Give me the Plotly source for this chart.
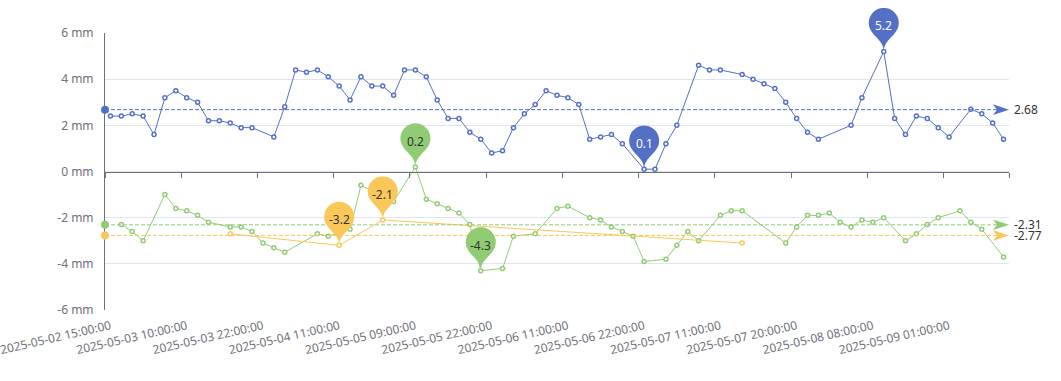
import math
import plotly.graph_objects as go

# ---------------- data ----------------
times = [
    "2025-05-02 15:00:00", "2025-05-02 16:00:00", "2025-05-02 18:00:00", "2025-05-02 19:00:00",
    "2025-05-02 21:00:00", "2025-05-02 23:00:00", "2025-05-03 06:00:00", "2025-05-03 10:00:00",
    "2025-05-03 11:00:00", "2025-05-03 13:00:00", "2025-05-03 15:00:00", "2025-05-03 17:00:00",
    "2025-05-03 19:00:00", "2025-05-03 20:00:00", "2025-05-03 22:00:00", "2025-05-03 23:00:00",
    "2025-05-04 01:00:00", "2025-05-04 03:00:00", "2025-05-04 05:00:00", "2025-05-04 07:00:00",
    "2025-05-04 09:00:00", "2025-05-04 11:00:00", "2025-05-04 13:00:00", "2025-05-04 16:00:00",
    "2025-05-04 19:00:00", "2025-05-04 22:00:00", "2025-05-05 02:00:00", "2025-05-05 06:00:00",
    "2025-05-05 09:00:00", "2025-05-05 10:00:00", "2025-05-05 12:00:00", "2025-05-05 14:00:00",
    "2025-05-05 16:00:00", "2025-05-05 18:00:00", "2025-05-05 20:00:00", "2025-05-05 22:00:00",
    "2025-05-05 23:00:00", "2025-05-06 01:00:00", "2025-05-06 03:00:00", "2025-05-06 05:00:00",
    "2025-05-06 07:00:00", "2025-05-06 09:00:00", "2025-05-06 11:00:00", "2025-05-06 12:00:00",
    "2025-05-06 14:00:00", "2025-05-06 15:00:00", "2025-05-06 17:00:00", "2025-05-06 19:00:00",
    "2025-05-06 20:00:00", "2025-05-06 22:00:00", "2025-05-06 23:00:00", "2025-05-07 01:00:00",
    "2025-05-07 03:00:00", "2025-05-07 05:00:00", "2025-05-07 07:00:00", "2025-05-07 09:00:00",
    "2025-05-07 11:00:00", "2025-05-07 12:00:00", "2025-05-07 13:00:00", "2025-05-07 14:00:00",
    "2025-05-07 15:00:00", "2025-05-07 17:00:00", "2025-05-07 18:00:00", "2025-05-07 20:00:00",
    "2025-05-07 21:00:00", "2025-05-07 23:00:00", "2025-05-08 01:00:00", "2025-05-08 03:00:00",
    "2025-05-08 05:00:00", "2025-05-08 06:00:00", "2025-05-08 08:00:00", "2025-05-08 10:00:00",
    "2025-05-08 13:00:00", "2025-05-08 15:00:00", "2025-05-08 17:00:00", "2025-05-08 19:00:00",
    "2025-05-08 22:00:00", "2025-05-09 01:00:00", "2025-05-09 03:00:00", "2025-05-09 05:00:00",
    "2025-05-09 07:00:00", "2025-05-09 09:00:00", "2025-05-09 11:00:00",
]

N = None
blue = [2.4, 2.4, 2.5, 2.4, 1.6, 3.2, 3.5, 3.2, 3.0, 2.2, 2.2, 2.1, 1.9, 1.9, N, 1.5,
        2.8, 4.4, 4.3, 4.4, 4.1, 3.7, 3.1, 4.1, 3.7, 3.7, 3.3, 4.4, 4.4, 4.1, 3.1, 2.3,
        2.3, 1.7, 1.4, 0.8, 0.9, 1.9, 2.5, 2.9, 3.5, 3.3, 3.2, 2.9, 1.4, 1.5, 1.6, 1.2,
        N, 0.1, 0.1, 1.2, 2.0, N, 4.6, 4.4, 4.4, N, 4.2, 4.0, 3.8, 3.6, 3.0, 2.3,
        1.7, 1.4, N, N, 2.0, 3.2, N, 5.2, 2.3, 1.6, 2.4, 2.3, 1.9, 1.5, N, 2.7,
        2.5, 2.1, 1.4]

green = [N, -2.3, -2.6, -3.0, N, -1.0, -1.6, -1.7, -1.9, -2.2, N, -2.4, -2.4, -2.6, -3.1, -3.3,
         -3.5, N, N, -2.7, -2.8, N, -2.5, -0.6, N, N, -1.3, N, 0.2, -1.2, -1.4, -1.6,
         -1.8, -2.3, -4.3, N, -4.2, -2.8, N, -2.7, N, -1.6, -1.5, N, -2.0, -2.1, -2.4, -2.6,
         -2.8, -3.9, N, -3.8, -3.2, -2.6, -3.0, N, -1.9, -1.7, -1.7, N, N, N, -3.1, -2.4,
         -1.9, -1.9, -1.8, -2.2, -2.4, -2.1, -2.2, -2.0, N, -3.0, -2.7, -2.3, -2.0, N, -1.7,
         -2.2, -2.5, N, -3.7]

yellow = [N] * 83
yellow[11] = -2.7
yellow[21] = -3.2
yellow[25] = -2.1
yellow[58] = -3.1

averages = [2.68, -2.31, -2.77]          # average markLine values (blue, green, yellow)
series_names = ["blue", "green", "yellow"]
colors = ["#5470c6", "#91cc75", "#fac858"]
pin_text_colors = ["#ffffff", "#333333", "#333333"]
label_every = 7
y_ticks = [-6, -4, -2, 0, 2, 4, 6]

# ---------------- figure ----------------
idx = list(range(len(times)))
x_lo, x_hi = -0.5, len(times) - 0.5
y_lo, y_hi = y_ticks[0], y_ticks[-1]
FONT = "Noto Sans, Open Sans, sans-serif"
AXIS_C = "#6E7079"


def xd(x):
    return (x - x_lo) / (x_hi - x_lo)


def yd(y):
    return (y - y_lo) / (y_hi - y_lo)


fig = go.Figure()
all_series = [blue, green, yellow]
for vals, col, name in zip(all_series, colors, series_names):
    fig.add_trace(go.Scatter(
        x=idx, y=vals, mode="lines+markers", name=name, connectgaps=True,
        line=dict(color=col, width=1),
        marker=dict(symbol="circle", size=4, color="#ffffff", line=dict(color=col, width=1.5)),
        hoverinfo="skip",
    ))

# helper trace for the zero-line x axis
fig.add_trace(go.Scatter(x=idx, y=[None] * len(idx), xaxis="x2", showlegend=False, hoverinfo="skip"))


def pin_path():
    r, h = 15.0, 50.0
    dy = r * r / (h - r)
    cy = h - r - dy
    a = math.asin(dy / r)
    dx = math.cos(a) * r
    tx, ty = math.sin(a), math.cos(a)
    cp1, cp2 = r * 0.6, r * 0.7
    pts = []
    n = 40
    start, end = math.pi + a, -a
    for k in range(n + 1):
        t = start + (end - start) * k / n
        pts.append((r * math.cos(t), cy + r * math.sin(t)))
    p = "M%.2f,%.2f " % pts[0] + " ".join("L%.2f,%.2f" % q for q in pts[1:])
    p += " C%.2f,%.2f %.2f,%.2f %.2f,%.2f" % (dx - tx * cp1, cy - dy - ty * cp1, 0, cp2, 0, 0)
    p += " C%.2f,%.2f %.2f,%.2f %.2f,%.2f Z" % (0, cp2, -(dx - tx * cp1), cy - dy - ty * cp1, -dx, cy - dy)
    return p, cy


PIN, PIN_CY = pin_path()
ARROW = "M0,0 L-16,5.3 L-12,0 L-16,-5.3 Z"

shapes = []
annotations = []
for avg, col in zip(averages, colors):
    shapes.append(dict(type="line", xref="x domain", yref="y domain", x0=0, x1=xd(x_hi - 0.4),
                       y0=yd(avg), y1=yd(avg),
                       line=dict(color=col, width=1, dash="4px,2px"), layer="above"))
    shapes.append(dict(type="circle", xref="x domain", yref="y domain", xsizemode="pixel", ysizemode="pixel",
                       xanchor=0, yanchor=yd(avg), x0=-4, x1=4, y0=-4, y1=4,
                       fillcolor=col, line=dict(width=0), layer="above"))
    shapes.append(dict(type="path", xref="x domain", yref="y domain", xsizemode="pixel", ysizemode="pixel",
                       xanchor=1, yanchor=yd(avg), path=ARROW,
                       fillcolor=col, line=dict(width=0), layer="above"))
    annotations.append(dict(xref="paper", yref="y", x=1, y=avg, xanchor="left", yanchor="middle",
                            xshift=3, text="%.2f" % avg, showarrow=False,
                            font=dict(family=FONT, size=12, color="#333333")))

for vals, col, tcol in zip(all_series, colors, pin_text_colors):
    present = [(i, v) for i, v in enumerate(vals) if v is not None]
    vmax = max(v for _, v in present)
    vmin = min(v for _, v in present)
    i_max = next(i for i, v in present if v == vmax)
    i_min = next(i for i, v in present if v == vmin)
    for i, v in [(i_max, vmax), (i_min, vmin)]:
        shapes.append(dict(type="path", xref="x domain", yref="y domain", xsizemode="pixel", ysizemode="pixel",
                           xanchor=xd(i), yanchor=yd(v), path=PIN,
                           fillcolor=col, line=dict(width=0), layer="above"))
        annotations.append(dict(xref="x", yref="y", x=i, y=v, yshift=PIN_CY - 3,
                                text="%g" % v, showarrow=False,
                                font=dict(family=FONT, size=12, color=tcol)))

tick_idx = idx[::label_every]
fig.update_layout(
    width=1061, height=381,
    margin=dict(l=105, r=52.3, t=33, b=71, autoexpand=False),
    paper_bgcolor="#ffffff", plot_bgcolor="#ffffff",
    showlegend=False,
    font=dict(family=FONT, size=12, color=AXIS_C),
    xaxis=dict(type="linear", range=[x_lo, x_hi], showline=False, showgrid=False, zeroline=False,
               tickmode="array", tickvals=tick_idx, ticktext=[times[i] for i in tick_idx],
               tickangle=-13, ticks="", ticklabelstandoff=6, ticklabeloverflow="allow",
               tickfont=dict(family=FONT, size=12, color=AXIS_C), automargin=False),
    xaxis2=dict(overlaying="x", anchor="free", position=0.5, side="bottom",
                range=[x_lo, x_hi], showline=True, linecolor=AXIS_C, linewidth=1,
                showgrid=False, zeroline=False, showticklabels=False,
                tickmode="array", tickvals=[i - 0.5 for i in tick_idx] + [x_hi],
                ticks="outside", ticklen=5, tickcolor=AXIS_C, tickwidth=1),
    yaxis=dict(range=[y_lo, y_hi], tickmode="array", tickvals=y_ticks,
               ticktext=["%d mm" % v for v in y_ticks], showline=True, linecolor=AXIS_C, linewidth=1,
               showgrid=True, gridcolor="#E0E6F1", gridwidth=1, zeroline=False,
               ticks="", ticklabelstandoff=8,
               tickfont=dict(family=FONT, size=12, color=AXIS_C), automargin=False),
    shapes=shapes,
    annotations=annotations,
)

fig.write_html("out.html", config={"displayModeBar": False},
               post_script="document.body.style.margin='0';")
